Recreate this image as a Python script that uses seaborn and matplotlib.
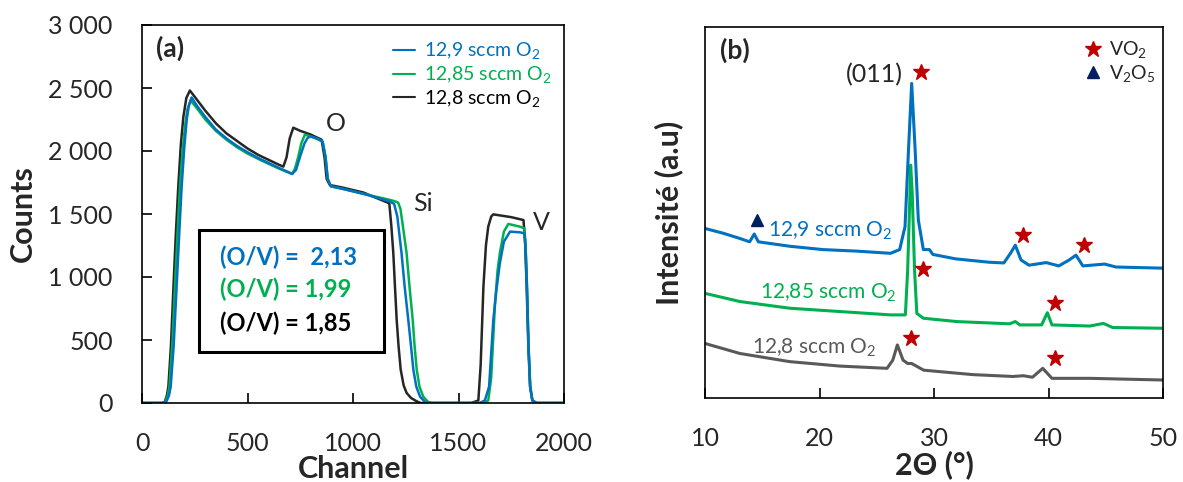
import numpy as np
import pandas as pd
import matplotlib
matplotlib.use("Agg")
import matplotlib.pyplot as plt
import matplotlib.patches as mpatches
import seaborn as sns

# ---- (a) RBS spectra : channel / counts ----
ch_129 = [0, 100, 115, 128, 136, 150, 164, 176, 188, 200, 212, 222, 235, 260, 300, 350, 400, 450, 500,
          550, 600, 650, 700, 712, 730, 750, 770, 785, 800, 830, 856, 870, 880, 895, 950, 1050, 1175,
          1195, 1210, 1230, 1245, 1262, 1275, 1286, 1300, 1318, 1340, 1360,
          1600, 1625, 1645, 1665, 1680, 1696, 1715, 1744, 1790, 1812, 1818, 1825, 1832, 1840, 1850, 1870, 2000]
cnt_129 = [0, 0, 10, 60, 130, 450, 920, 1330, 1720, 2020, 2250, 2360, 2425, 2360, 2270, 2170, 2100, 2040, 1990,
           1945, 1905, 1865, 1828, 1818, 1850, 1960, 2060, 2105, 2115, 2100, 2075, 1950, 1780, 1720, 1700, 1660, 1600,
           1580, 1480, 1190, 920, 660, 450, 265, 130, 50, 10, 0,
           0, 20, 130, 660, 900, 1110, 1280, 1360, 1355, 1347, 1230, 900, 450, 130, 20, 0, 0]

ch_1285 = [0, 95, 110, 122, 130, 143, 156, 168, 180, 192, 204, 215, 231, 260, 300, 350, 400, 450, 500,
           550, 600, 650, 700, 712, 725, 740, 755, 772, 800, 830, 856, 870, 880, 895, 950, 1050, 1180,
           1200, 1214, 1225, 1240, 1254, 1268, 1283, 1292, 1302, 1315, 1333, 1355, 1375,
           1620, 1641, 1655, 1673, 1685, 1696, 1715, 1736, 1790, 1812, 1818, 1825, 1832, 1840, 1850, 1870, 2000]
cnt_1285 = [0, 0, 10, 60, 130, 450, 920, 1330, 1720, 2000, 2200, 2330, 2400, 2340, 2250, 2160, 2090, 2030, 1980,
            1938, 1898, 1860, 1825, 1818, 1860, 1950, 2060, 2130, 2115, 2095, 2075, 1950, 1780, 1720, 1700, 1660, 1610,
            1600, 1590, 1540, 1360, 1190, 920, 660, 450, 265, 130, 50, 10, 0,
            0, 20, 200, 790, 1050, 1190, 1360, 1421, 1400, 1386, 1250, 900, 450, 130, 20, 0, 0]

ch_128 = [0, 95, 108, 118, 125, 137, 149, 160, 172, 184, 196, 210, 227, 250, 300, 350, 400, 450, 500,
          550, 600, 650, 670, 685, 700, 717, 750, 800, 851, 865, 875, 890, 950, 1050, 1150,
          1172, 1182, 1191, 1199, 1207, 1216, 1226, 1240, 1254, 1275, 1300, 1320,
          1560, 1594, 1605, 1618, 1630, 1641, 1655, 1665, 1750, 1808, 1815, 1823, 1831, 1839, 1850, 1870, 2000]
cnt_128 = [0, 0, 10, 60, 130, 450, 920, 1330, 1720, 2050, 2270, 2420, 2480, 2430, 2320, 2220, 2140, 2080, 2020,
           1970, 1930, 1890, 1876, 1950, 2100, 2185, 2160, 2130, 2090, 1950, 1780, 1730, 1710, 1670, 1600,
           1585, 1400, 1190, 920, 660, 450, 265, 140, 80, 40, 15, 0,
           0, 20, 300, 920, 1250, 1400, 1480, 1497, 1475, 1452, 1300, 920, 450, 130, 20, 0, 0]

labels_a = ["12,9 sccm O$_2$", "12,85 sccm O$_2$", "12,8 sccm O$_2$"]
ratio_texts = ["(O/V) =  2,13", "(O/V) = 1,99", "(O/V) = 1,85"]
xticks_a = [0, 500, 1000, 1500, 2000]
xticklabels_a = ["0", "500", "1000", "1500", "2000"]
yticks_a = [0, 500, 1000, 1500, 2000, 2500, 3000]
yticklabels_a = ["0", "500", "1 000", "1 500", "2 000", "2 500", "3 000"]

# ---- (b) XRD patterns : 2theta / intensity (arbitrary units) ----
tt_129 = [10.0, 11.6, 13.05, 13.9, 14.3, 14.66, 17.4, 20.3, 23.2, 26.2, 27.0, 27.47, 27.76, 28.05, 28.34,
          28.63, 29.07, 29.6, 29.9, 31.9, 34.8, 36.1, 36.7, 37.1, 37.6, 38.3, 39.8, 40.9, 41.8, 42.4,
          43.0, 44.9, 45.9, 50.0]
int_129 = [45.7, 44.4, 43.0, 42.1, 44.2, 42.1, 40.9, 40.0, 39.6, 39.0, 40.0, 46.2, 66.0, 84.8, 67.7,
           48.0, 40.0, 40.0, 38.7, 37.5, 36.6, 36.4, 39.1, 41.2, 37.2, 35.8, 36.5, 35.6, 37.2, 38.5,
           35.6, 36.1, 35.3, 35.0]

tt_1285 = [10.0, 13.05, 17.4, 21.8, 26.2, 27.5, 27.7, 27.9, 27.96, 28.1, 28.3, 28.5, 29.07, 32.0,
           36.6, 37.1, 37.5, 39.4, 39.9, 40.3, 43.6, 44.8, 45.6, 50.0]
int_1285 = [28.2, 26.0, 24.2, 23.3, 22.4, 22.4, 34.5, 55.2, 62.8, 55.2, 34.5, 22.8, 21.5, 20.6,
            20.0, 20.6, 19.7, 19.7, 23.0, 19.7, 19.4, 20.1, 19.0, 18.8]

tt_128 = [10.0, 13.05, 17.4, 21.8, 25.9, 26.4, 26.8, 27.3, 27.7, 28.05, 29.1, 33.4, 36.9, 37.8, 38.6,
          39.5, 40.3, 43.6, 50.0]
int_128 = [14.7, 12.0, 9.8, 8.6, 8.0, 10.2, 14.3, 10.2, 9.3, 9.3, 7.5, 6.3, 5.8, 6.0, 5.6,
           8.0, 5.3, 5.3, 4.85]

vo2_tt = [28.9, 37.8, 43.1, 29.07, 40.57, 28.0, 40.57]
vo2_int = [88.0, 43.9, 41.2, 34.9, 25.5, 16.1, 10.7]
v2o5_tt = [14.5]
v2o5_int = [48.0]
xticks_b = [10, 20, 30, 40, 50]

BLUE, GREEN, BLACK, GREY = "#0070C0", "#00B050", "#262626", "#595959"
RED, NAVY = "#C00000", "#002060"

sns.set_theme(style="white")
plt.rcParams["font.family"] = ["Lato", "DejaVu Sans"]
plt.rcParams["mathtext.default"] = "regular"

fig = plt.figure(figsize=(11.83, 4.82), dpi=100)

# ================= (a) =================
ax = fig.add_axes([142 / 1183, 1 - 403 / 482, 422 / 1183, 378 / 482])
sns.lineplot(x=ch_128, y=cnt_128, color=BLACK, lw=1.8, sort=False, estimator=None, ax=ax, label=labels_a[2])
sns.lineplot(x=ch_1285, y=cnt_1285, color=GREEN, lw=1.8, sort=False, estimator=None, ax=ax, label=labels_a[1])
sns.lineplot(x=ch_129, y=cnt_129, color=BLUE, lw=1.8, sort=False, estimator=None, ax=ax, label=labels_a[0])
ax.set_xlim(0, 2000)
ax.set_ylim(0, 3000)
ax.set_xticks(xticks_a)
ax.set_xticklabels(xticklabels_a)
ax.set_yticks(yticks_a)
ax.set_yticklabels(yticklabels_a)
ax.tick_params(direction="in", length=7, width=1.2, pad=21, labelsize=18, color="black",
               bottom=True, left=True, top=False, right=False)
for s in ax.spines.values():
    s.set_color("black")
    s.set_linewidth(1.2)
ax.set_xlabel("Channel", fontsize=22, fontweight="bold", labelpad=0)
ax.set_ylabel("Counts", fontsize=22, fontweight="bold", labelpad=8)

h, l = ax.get_legend_handles_labels()
leg = ax.legend(h[::-1], l[::-1], loc="upper right", bbox_to_anchor=(0.995, 0.985), frameon=False,
                fontsize=14, handlelength=1.1, handletextpad=0.5, labelspacing=0.15, borderpad=0,
                labelcolor=[BLUE, GREEN, "black"])
for line in leg.get_lines():
    line.set_linewidth(1.5)

ax.text(133, 2817, "(a)", fontsize=19, fontweight="bold", ha="center", va="center")
ax.text(919, 2222, "O", fontsize=18, ha="center", va="center")
ax.text(1332, 1587, "Si", fontsize=18, ha="center", va="center")
ax.text(1891, 1436, "V", fontsize=18, ha="center", va="center")
ax.add_patch(mpatches.Rectangle((270, 405), 877, 968, fill=False, ec="black", lw=2.2, zorder=5))
for txt, yy, c in zip(ratio_texts, [1159, 905, 635], [BLUE, GREEN, "black"]):
    ax.text(370, yy, txt, color=c, fontsize=17, fontweight="bold", ha="left", va="center")

# ================= (b) =================
bx = fig.add_axes([705 / 1183, 1 - 398 / 482, 458 / 1183, 371 / 482])
sns.lineplot(x=tt_128, y=int_128, color=GREY, lw=2.2, sort=False, estimator=None, ax=bx)
sns.lineplot(x=tt_1285, y=int_1285, color=GREEN, lw=2.2, sort=False, estimator=None, ax=bx)
sns.lineplot(x=tt_129, y=int_129, color=BLUE, lw=2.2, sort=False, estimator=None, ax=bx)
bx.plot(vo2_tt, vo2_int, ls="none", marker="*", ms=12, color=RED)
bx.plot(v2o5_tt, v2o5_int, ls="none", marker="^", ms=8, color=NAVY)
bx.set_xlim(10, 50)
bx.set_ylim(0, 100)
bx.set_xticks(xticks_b)
bx.set_yticks([])
bx.tick_params(axis="x", direction="in", length=7, width=1.2, pad=21, labelsize=18, color="black",
               bottom=True, top=False)
for s in bx.spines.values():
    s.set_color("black")
    s.set_linewidth(1.2)
bx.set_xlabel("2\u0398 (°)", fontsize=22, fontweight="bold", labelpad=0)
bx.set_ylabel("Intensité (a.u)", fontsize=22, fontweight="bold", labelpad=16)

bx.text(12.6, 93.8, "(b)", fontsize=19, fontweight="bold", ha="center", va="center")
bx.text(27.27, 87.1, "(011)", fontsize=18, ha="right", va="center")
bx.text(15.5, 43.5, "12,9 sccm O$_2$", color=BLUE, fontsize=15, ha="left", va="baseline")
bx.text(14.8, 26.9, "12,85 sccm O$_2$", color=GREEN, fontsize=15, ha="left", va="baseline")
bx.text(14.1, 12.0, "12,8 sccm O$_2$", color=GREY, fontsize=15, ha="left", va="baseline")
bx.plot([43.9], [94.0], marker="*", ms=12, color=RED)
bx.plot([43.9], [88.0], marker="^", ms=8, color=NAVY)
bx.text(45.3, 94.0, "VO$_2$", fontsize=14, ha="left", va="center")
bx.text(45.3, 87.5, "V$_2$O$_5$", fontsize=14, ha="left", va="center")

fig.savefig("out.png", dpi=100)
